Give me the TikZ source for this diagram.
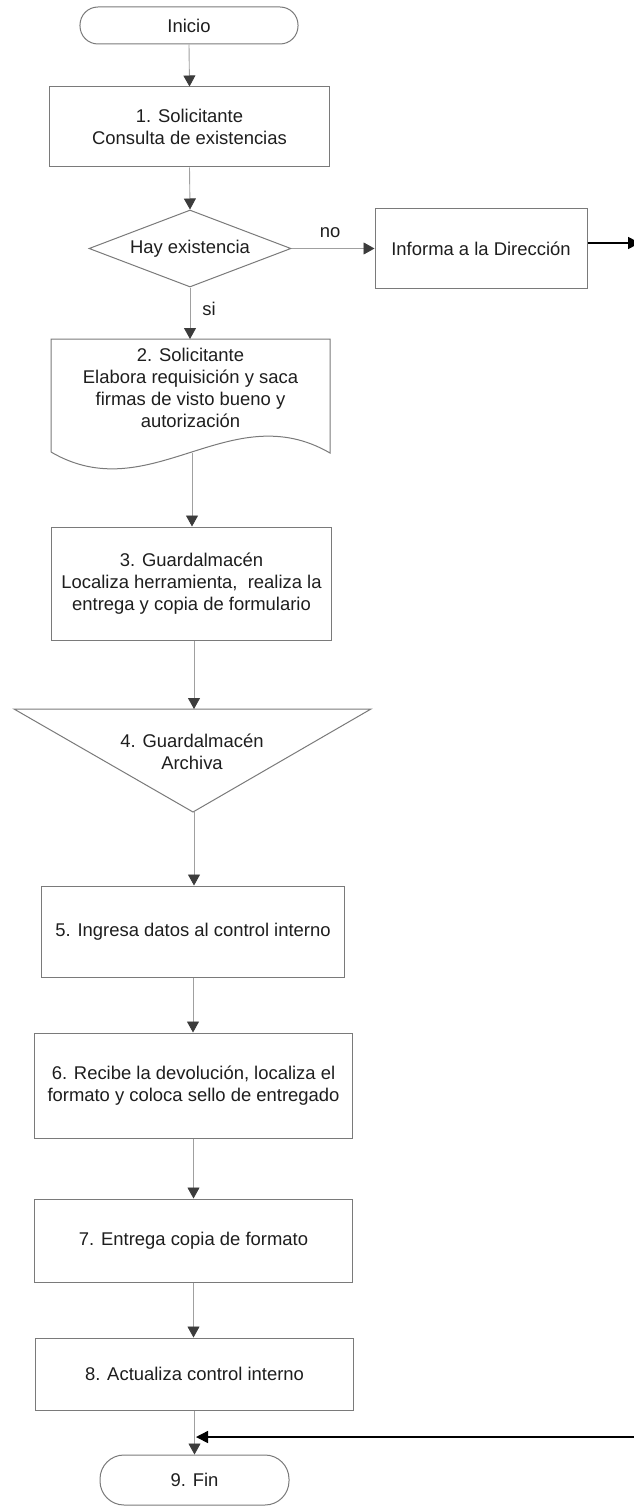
\documentclass[tikz,border=0pt]{standalone}
\usepackage{fontspec}
\setmainfont{Liberation Sans}
\usetikzlibrary{arrows.meta,shapes.geometric}
\definecolor{boxc}{HTML}{7A7A7A}
\definecolor{linec}{HTML}{A0A0A0}
\definecolor{arrowc}{HTML}{3C3C3C}
\definecolor{textc}{HTML}{1E1E1E}
\tikzset{
  every node/.style={font=\fontsize{18.5}{22}\selectfont, text=textc, align=center},
  procbox/.style={draw=boxc, line width=1bp, rectangle, inner sep=0pt},
  termbox/.style={draw=boxc, line width=1bp, rectangle, rounded corners=18bp, inner sep=0pt},
  decbox/.style={draw=boxc, line width=1bp, diamond, aspect=2.62, inner sep=0pt, minimum width=202bp, minimum height=77bp},
  conn/.style={draw=linec, line width=0.9bp, -{Triangle[width=12bp,length=11bp,color=arrowc]}},
  ret/.style={draw=black, line width=1.5bp, -{Triangle[width=12bp,length=12bp,color=black]}},
  lbl/.style={inner sep=0pt}
}
\begin{document}
\begin{tikzpicture}[x=1bp,y=-1bp]
\useasboundingbox[fill=white] (0,0) rectangle (634,1506);

% nodes
\node[termbox, minimum width=218bp, minimum height=37bp] (ini) at (189,25.5) {Inicio};
\node[procbox, minimum width=279bp, minimum height=80bp] (b1) at (189.5,127) {1. Solicitante\\Consulta de existencias};
\node[decbox] (dec) at (190,248.5) {Hay existencia};
\node[procbox, minimum width=212bp, minimum height=79bp] (inf) at (481,248.5) {Informa a la Dirección};

% document shape (step 2)
\draw[draw=boxc, line width=1bp] (51,452) -- (51,339) -- (330,339) -- (330,453)
  .. controls (230,395) and (150,510) .. (51,452);
\node (b2) at (190.5,388) {2. Solicitante\\Elabora requisición y saca\\firmas de visto bueno y\\autorización};
\coordinate (b2top) at (190,339);
\coordinate (b2bot) at (192,453);

\node[procbox, minimum width=279bp, minimum height=113bp] (b3) at (191.5,583.5) {3. Guardalmacén\\Localiza herramienta,\ \ realiza la\\entrega y copia de formulario};

% triangle (step 4)
\draw[draw=boxc, line width=1bp] (14,709) -- (371,709) -- (193,812) -- cycle;
\node (t4) at (192,752) {4. Guardalmacén\\Archiva};
\coordinate (t4top) at (194,709);
\coordinate (t4tip) at (194,812);

\node[procbox, minimum width=302bp, minimum height=91bp] (b5) at (193,931.5) {5. Ingresa datos al control interno};
\node[procbox, minimum width=317bp, minimum height=105bp] (b6) at (193.5,1085.5) {6. Recibe la devolución, localiza el\\formato y coloca sello de entregado};
\node[procbox, minimum width=317bp, minimum height=83bp] (b7) at (193.5,1240.5) {7. Entrega copia de formato};
\node[procbox, minimum width=317bp, minimum height=72bp] (b8) at (194.5,1374) {8. Actualiza control interno};
\node[termbox, rounded corners=24bp, minimum width=189bp, minimum height=50bp] (fin) at (194.5,1480) {9. Fin};

% labels
\node[lbl] (no) at (330,233) {no};
\node[lbl] (si) at (209,309) {si};

% free ends beyond the right edge
\coordinate (outR) at (640,243);
\coordinate (retR) at (650,1437);
\coordinate (retL) at (196,1437);

% connectors
\draw[conn] (ini.south) -- (b1.north);
\draw[conn] (b1.south) -- (dec.north);
\draw[conn] (dec.east) -- (inf.west);
\draw[conn] (dec.south) -- (b2top);
\draw[conn] (b2bot) -- (b2bot |- b3.north);
\draw[conn] (b3.south -| t4top) -- (t4top);
\draw[conn] (t4tip) -- (t4tip |- b5.north);
\draw[conn] (b5.south) -- (b5.south |- b6.north);
\draw[conn] (b6.south) -- (b6.south |- b7.north);
\draw[conn] (b7.south) -- (b7.south |- b8.north);
\draw[conn] (b8.south) -- (b8.south |- fin.north);
\draw[ret] (inf.east |- outR) -- (outR);
\draw[ret] (retR) -- (retL);
\end{tikzpicture}
\end{document}
